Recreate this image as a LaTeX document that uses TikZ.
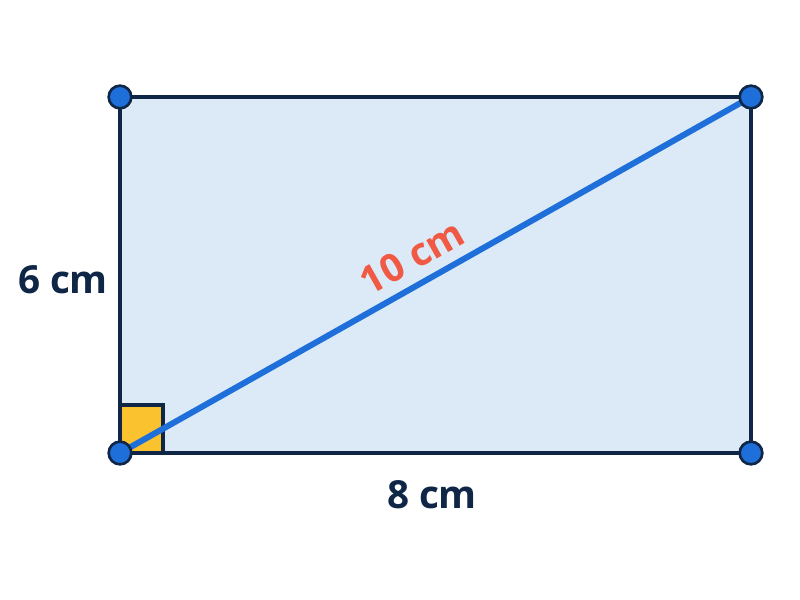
\documentclass[tikz,border=0pt]{standalone}
\usepackage{fontspec}
\setmainfont{Open Sans}
\usepackage{tikz}
\definecolor{edgedark}{HTML}{0F2647}
\definecolor{diagblue}{HTML}{1E6FD9}
\definecolor{rectfill}{HTML}{DCEAF8}
\definecolor{anglefill}{HTML}{F9C22E}
\definecolor{labelred}{HTML}{F05A45}

\begin{document}
\begin{tikzpicture}[x=0.75pt,y=-0.75pt,
	corner/.style={circle,fill=diagblue,draw=edgedark,line width=2pt,minimum size=17pt,inner sep=0pt},
	side/.style={font=\bfseries\fontsize{29}{34}\selectfont,text=edgedark}]
	 	\useasboundingbox[fill=white] (0,0) rectangle (800,600);
	 	\coordinate (A) at (120,453);
	 	\coordinate (B) at (751,453);
	 	\coordinate (C) at (751,97);
	 	\coordinate (D) at (120,97);
	 	\filldraw [fill=rectfill,draw=edgedark,line width=3pt] (A) -- (B) -- (C) -- (D) -- cycle;
	 	\filldraw [fill=anglefill,draw=edgedark,line width=2.5pt] (A) rectangle (163,405);
	 	\draw [diagblue,line width=4.5pt] (A) -- (C);
	 	\node [corner] (a) at (A) {};
	 	\node [corner] (b) at (B) {};
	 	\node [corner] (c) at (C) {};
	 	\node [corner] (d) at (D) {};
	 	\node [side] (lside) at (63,280) {6 cm};
	 	\node [side] (bside) at (432,495) {8 cm};
	 	\node [side,text=labelred,rotate=29.4] (diag) at (412,257) {10 cm};
\end{tikzpicture}
\end{document}
